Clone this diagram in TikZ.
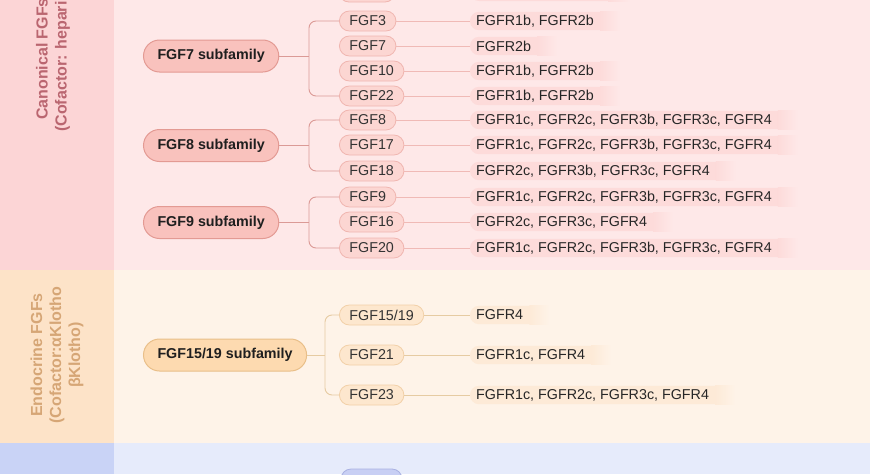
\documentclass[tikz,border=0pt]{standalone}
\usepackage{fontspec}
\setmainfont{Liberation Sans}
\usetikzlibrary{positioning}

% Colours of the sections
\definecolor{canonbg}{HTML}{FEE8E8}
\definecolor{canonstrip}{HTML}{FCD5D6}
\definecolor{canontext}{HTML}{BA6670}
\definecolor{canonsubfill}{HTML}{F9C2BD}
\definecolor{canonsubline}{HTML}{E39A93}
\definecolor{canonmemfill}{HTML}{FCD6D2}
\definecolor{canonmemline}{HTML}{F0B6B0}
\definecolor{canonpill}{HTML}{FDDBDA}
\definecolor{canonlinkcol}{HTML}{DB9A96}
\definecolor{canonthincol}{HTML}{F0BAB6}
\definecolor{endobg}{HTML}{FEF3E8}
\definecolor{endostrip}{HTML}{FDE3C8}
\definecolor{endotext}{HTML}{D6A676}
\definecolor{endosubfill}{HTML}{FDDAB0}
\definecolor{endosubline}{HTML}{E9BF89}
\definecolor{endomemfill}{HTML}{FDE7CE}
\definecolor{endomemline}{HTML}{F2D0A8}
\definecolor{endopill}{HTML}{FDEAD7}
\definecolor{endolinkcol}{HTML}{E6CBA2}
\definecolor{bluebg}{HTML}{E6EBFB}
\definecolor{bluestrip}{HTML}{C9D3F6}
\definecolor{bluememfill}{HTML}{C8CFF4}
\definecolor{bluememline}{HTML}{A9B1E2}

\newcommand\labelsize{\fontsize{14.3}{17}\selectfont}

\pgfdeclarelayer{back}
\pgfsetlayers{back,main}

% Receptor pill behind a node: solid part, then a fade to the section colour
\newcommand\recpill[3]{%
  \fill[#2, rounded corners=9pt] (#1.south west) rectangle ([xshift=8pt]#1.north east);
  \shade[left color=#2, right color=#3] ([xshift=0pt]#1.south east) rectangle ([xshift=20pt]#1.north east);}

\tikzset{
  sidetext/.style={rotate=90, align=center, font=\bfseries\fontsize{16}{19}\selectfont},
  subfam/.style={anchor=west, rounded corners=16pt, minimum height=32pt, inner xsep=14pt,
    inner ysep=0pt, line width=1pt, font=\bfseries\labelsize, text=black!88},
  member/.style={anchor=west, rounded corners=10pt, minimum height=20pt, inner xsep=10pt,
    inner ysep=0pt, line width=0.8pt, font=\labelsize, text=black!80},
  receptor/.style={anchor=west, minimum height=18pt, inner xsep=6pt, inner ysep=0pt,
    font=\labelsize, text=black!85},
  canonsub/.style={subfam, fill=canonsubfill, draw=canonsubline},
  canonmem/.style={member, fill=canonmemfill, draw=canonmemline},
  canonlink/.style={draw=canonlinkcol, line width=0.9pt},
  canonthin/.style={draw=canonthincol, line width=0.8pt},
  endosub/.style={subfam, fill=endosubfill, draw=endosubline},
  endomem/.style={member, fill=endomemfill, draw=endomemline},
  endolink/.style={draw=endolinkcol, line width=0.9pt},
}

\begin{document}
\begin{tikzpicture}[x=1pt, y=-1pt]
  % Sizes
  \def\stripw{114}
  \def\canontrunk{309}
  \def\endotrunk{325}
  \useasboundingbox (0,0) rectangle (870,474);

  % Section bands and the pills cut off at the edges
  \begin{pgfonlayer}{back}
    \fill[canonbg] (0,0) rectangle (870,270);
    \fill[canonstrip] (0,0) rectangle (\stripw,270);
    \fill[endobg] (0,270) rectangle (870,443);
    \fill[endostrip] (0,270) rectangle (\stripw,443);
    \fill[bluebg] (0,443) rectangle (870,474);
    \fill[bluestrip] (0,443) rectangle (\stripw,474);
    \filldraw[fill=canonmemfill, draw=canonmemline, line width=0.8pt, rounded corners=10pt] (339,-18) rectangle (395,2);
    \fill[canonpill, rounded corners=9pt] (470,-17) rectangle (616,1);
    \shade[left color=canonpill, right color=canonbg] (608,-17) rectangle (630,1);
    \filldraw[fill=bluememfill, draw=bluememline, line width=0.8pt, rounded corners=10pt] (341,469) rectangle (402,489);
  \end{pgfonlayer}

  % Section titles
  \node[sidetext, text=canontext] (canonlabel) at (53,59) {Canonical FGFs\\(Cofactor: heparin\phantom{)}};
  \node[sidetext, text=endotext] (endolabel) at (57,355) {Endocrine FGFs\\(Cofactor:αKlotho\\βKlotho)};

  % Subfamilies
  \node[canonsub] (sub7) at (143,56) {FGF7 subfamily};
  \node[canonsub] (sub8) at (143,145.5) {FGF8 subfamily};
  \node[canonsub] (sub9) at (143,222.5) {FGF9 subfamily};
  \node[endosub] (sub15) at (143,355) {FGF15/19 subfamily};

  % Members and their receptors
  \foreach \n/\y/\m/\r in {3/21/FGF3/{FGFR1b, FGFR2b}, 7/46/FGF7/FGFR2b,
      10/71/FGF10/{FGFR1b, FGFR2b}, 22/96/FGF22/{FGFR1b, FGFR2b},
      8/120/FGF8/{FGFR1c, FGFR2c, FGFR3b, FGFR3c, FGFR4},
      17/145/FGF17/{FGFR1c, FGFR2c, FGFR3b, FGFR3c, FGFR4},
      18/171/FGF18/{FGFR2c, FGFR3b, FGFR3c, FGFR4},
      9/197/FGF9/{FGFR1c, FGFR2c, FGFR3b, FGFR3c, FGFR4},
      16/222/FGF16/{FGFR2c, FGFR3c, FGFR4},
      20/248/FGF20/{FGFR1c, FGFR2c, FGFR3b, FGFR3c, FGFR4}} {
    \node[canonmem] (m\n) at (339,\y) {\m};
    \node[receptor] (r\n) at (470,\y) {\r};
    \draw[canonthin] (m\n) -- (r\n);
    \begin{pgfonlayer}{back}
      \recpill{r\n}{canonpill}{canonbg}
    \end{pgfonlayer}
  }
  \foreach \n/\y/\m/\r in {15/315/{FGF15/19}/FGFR4, 21/355/FGF21/{FGFR1c, FGFR4},
      23/395/FGF23/{FGFR1c, FGFR2c, FGFR3c, FGFR4}} {
    \node[endomem] (m\n) at (339,\y) {\m};
    \node[receptor] (r\n) at (470,\y) {\r};
    \draw[endolink, line width=0.8pt] (m\n) -- (r\n);
    \begin{pgfonlayer}{back}
      \recpill{r\n}{endopill}{endobg}
    \end{pgfonlayer}
  }

  % Trunks from each subfamily
  \coordinate (t7) at (\canontrunk,56);
  \coordinate (t8) at (\canontrunk,145.5);
  \coordinate (t9) at (\canontrunk,222.5);
  \coordinate (t15) at (\endotrunk,355);
  \draw[canonlink] (sub7) -- (t7);
  \draw[canonlink, rounded corners=7pt] (m3.west) -| (t7) |- (m22.west);
  \draw[canonlink] (sub8) -- (t8);
  \draw[canonlink, rounded corners=7pt] (m8.west) -| (t8) |- (m18.west);
  \draw[canonlink] (sub9) -- (t9);
  \draw[canonlink, rounded corners=7pt] (m9.west) -| (t9) |- (m20.west);
  \draw[endolink] (sub15) -- (t15);
  \draw[endolink, rounded corners=7pt] (m15.west) -| (t15) |- (m23.west);
\end{tikzpicture}
\end{document}
